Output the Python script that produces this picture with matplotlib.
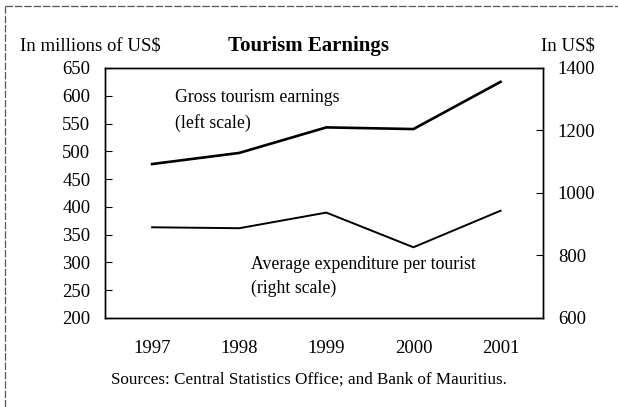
import matplotlib
matplotlib.use("Agg")
import matplotlib.pyplot as plt
from matplotlib.lines import Line2D

years = [1997, 1998, 1999, 2000, 2001]
gross_earnings = [477, 497, 543, 540, 625]      # millions of US$, left scale
avg_expenditure = [890, 887, 937, 826, 943]     # US$, right scale

left_ticks = [200, 250, 300, 350, 400, 450, 500, 550, 600, 650]
right_ticks = [600, 800, 1000, 1200, 1400]

plt.rcParams["font.family"] = ["Liberation Serif", "DejaVu Serif"]

fig = plt.figure(figsize=(6.18, 4.07), dpi=100)
ax = fig.add_axes([0.170, 0.219, 0.709, 0.614])
ax2 = ax.twinx()

ax.plot(years, gross_earnings, color="black", lw=1.9)
ax2.plot(years, avg_expenditure, color="black", lw=1.4)

ax.set_xlim(1996.46, 2001.49)
ax.set_ylim(200, 650)
ax2.set_ylim(600, 1400)
ax.set_yticks(left_ticks)
ax2.set_yticks(right_ticks)
ax.set_xticks(years)
ax.set_xticklabels([str(y) for y in years])

ax.tick_params(axis="y", direction="in", length=5, width=0.8, labelsize=13.5, pad=10.5)
ax2.tick_params(axis="y", direction="in", length=5, width=0.8, labelsize=13.5, pad=10.5)
ax.tick_params(axis="x", length=0, labelsize=13.5, pad=16)
for a in (ax, ax2):
    for s in a.spines.values():
        s.set_linewidth(1.0)

ax.text(1997.26, 596, "Gross tourism earnings", fontsize=12.8, va="center")
ax.text(1997.26, 551, "(left scale)", fontsize=12.8, va="center")
ax.text(1998.14, 296, "Average expenditure per tourist", fontsize=12.8, va="center")
ax.text(1998.14, 253, "(right scale)", fontsize=12.8, va="center")

fig.text(0.033, 0.888, "In millions of US$", fontsize=13.5, va="center")
fig.text(0.50, 0.888, "Tourism Earnings", fontsize=15, fontweight="bold",
         va="center", ha="center")
fig.text(0.963, 0.888, "In US$", fontsize=13.5, va="center", ha="right")
fig.text(0.50, 0.068, "Sources: Central Statistics Office; and Bank of Mauritius.",
         fontsize=12.3, va="center", ha="center")

# scanned outer frame (top and left edges only)
fig.add_artist(Line2D([0.008, 1.0], [0.985, 0.985], color="#555555", lw=0.9,
                      ls=(0, (6, 1.5))))
fig.add_artist(Line2D([0.008, 0.008], [0.0, 0.985], color="#555555", lw=0.9,
                      ls=(0, (6, 1.5))))

fig.savefig("out.png", dpi=100, facecolor="white")
